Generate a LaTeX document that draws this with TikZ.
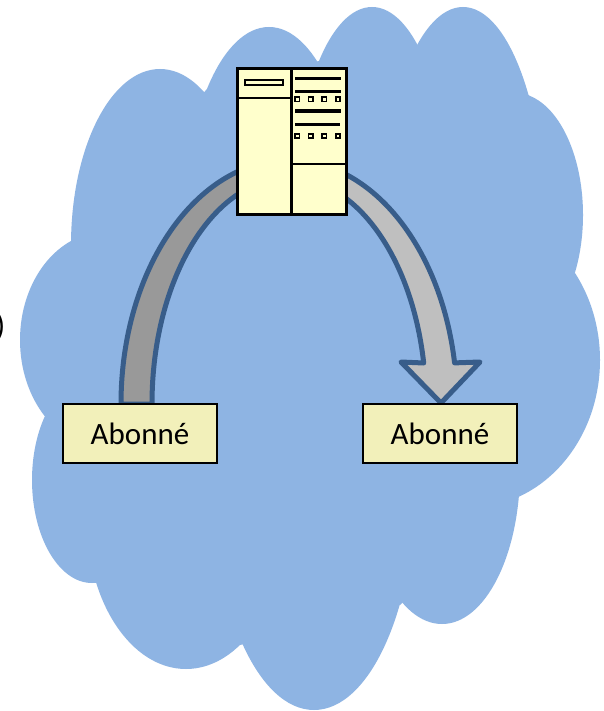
\documentclass[tikz,border=0pt]{standalone}
\usepackage{fontspec}
\setmainfont{Carlito}
\definecolor{cloudblue}{HTML}{8EB4E3}
\definecolor{arrowline}{HTML}{385D8A}
\definecolor{darkband}{HTML}{999999}
\definecolor{lightband}{HTML}{BFBFBF}
\definecolor{boxfill}{HTML}{F2F0BA}
\definecolor{srvfill}{HTML}{FFFFCC}
\begin{document}
\begin{tikzpicture}[x=1pt,y=-1pt,
  bandline/.style={draw=arrowline,line width=5pt,line join=round},
  abox/.style={draw=black,fill=boxfill,line width=2pt,minimum width=154pt,minimum height=59pt,inner sep=0pt,font=\fontsize{31}{36}\selectfont},
  srvbox/.style={draw=black,fill=srvfill,line width=3pt,minimum width=109pt,minimum height=146pt,inner sep=0pt},
  srvbar/.style={line width=3.4pt,black},
  srvled/.style={draw=black,fill=srvfill,line width=1.5pt}]
\useasboundingbox (0,0) rectangle (604,711);
\fill[white] (0,0) rectangle (604,711);
% cloud
\begin{scope}[fill=cloudblue]
\fill (160,245) ellipse [x radius=89, y radius=176];
\fill (269,220) ellipse [x radius=84.5, y radius=193];
\fill (372,200) ellipse [x radius=76.4, y radius=193];
\fill (463,235) ellipse [x radius=83, y radius=228];
\fill (515,215) ellipse [x radius=68, y radius=122];
\fill (470,360) ellipse [x radius=130, y radius=147.5];
\fill (442,470) ellipse [x radius=78, y radius=154];
\fill (314,480) ellipse [x radius=102, y radius=230];
\fill (186,520) ellipse [x radius=99, y radius=149];
\fill (92,480) ellipse [x radius=60, y radius=103];
\fill (105,340) ellipse [x radius=85, y radius=108];
\fill (71,241) -- (207,89) -- (319,61) -- (417,45) -- (530,96) -- (578,257)
  -- (518,497) -- (400,605) -- (240,645) -- (109,608) -- (47,421) -- cycle;
\end{scope}
% partial parenthesis at left edge
\node[anchor=east,inner sep=0pt,font=\fontsize{32}{38}\selectfont] (paren) at (5.5,327) {)};
% arrows
\draw[bandline,fill=darkband] (121,404) arc[start angle=180,end angle=270,x radius=168,y radius=244]
  -- (289,178) arc[start angle=270,end angle=180,x radius=137,y radius=226] -- cycle;
\draw[bandline,fill=lightband] (289,160) arc[start angle=270,end angle=350.3,x radius=168,y radius=244]
  -- (480,362) -- (441,403) -- (401,362) -- (423.7,363)
  arc[start angle=349.57,end angle=270,x radius=137,y radius=226] -- cycle;
% subscriber boxes
\node[abox] (ab1) at (140,433.5) {Abonné};
\node[abox] (ab2) at (440,433.5) {Abonné};
% server
\node[srvbox] (srv) at (291.5,142) {};
\draw[line width=3pt] (291.7,69) -- (291.7,215);
\draw[line width=2pt] (237,98.3) -- (291.7,98.3);
\draw[line width=2pt] (291.7,164.3) -- (346,164.3);
\draw[line width=1.5pt,fill=srvfill] (245,80) rectangle (283,85);
\draw[srvbar] (295,78.3) -- (341,78.3);
\draw[srvbar] (295,91.7) -- (341,91.7);
\draw[srvbar] (295,111) -- (341,111);
\draw[srvbar] (295,124.3) -- (339.5,124.3);
\foreach \xx in {297.3,310.7,324.3,338}{
  \draw[srvled] (\xx-2.2,97.1) rectangle (\xx+2.2,101.5);
  \draw[srvled] (\xx-2.2,133.8) rectangle (\xx+2.2,138.2);
}
\end{tikzpicture}
\end{document}
